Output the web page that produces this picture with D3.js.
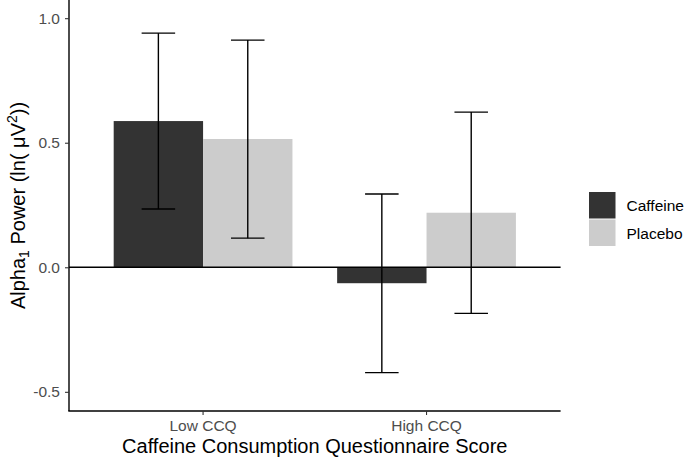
<!DOCTYPE html>
<html><head><meta charset="utf-8">
<script src="https://cdn.jsdelivr.net/npm/d3@7"></script>
<style>body{margin:0;background:#fff}svg{display:block;font-family:"Liberation Sans",Arial,sans-serif}</style>
</head><body><svg id="c" width="685" height="457"></svg>
<script>
const categories = ["Low CCQ", "High CCQ"];
const groups = ["Caffeine", "Placebo"];
const caffeineMean = [0.587, -0.064];
const caffeineLow = [0.234, -0.423];
const caffeineHigh = [0.940, 0.294];
const placeboMean = [0.515, 0.219];
const placeboLow = [0.117, -0.185];
const placeboHigh = [0.912, 0.623];
const yTicks = [-0.5, 0.0, 0.5, 1.0];
const colors = ["#333333", "#cccccc"];

const svg = d3.select("#c");
const pL = 69, pR = 560.6, pT = 0, pB = 411;
const y = d3.scaleLinear().domain([-0.577, 1.073]).range([pB, pT]);
const x = d3.scaleLinear().domain([0.4, 2.6]).range([pL, pR]);
const series = [
  {name: groups[0], mean: caffeineMean, lo: caffeineLow, hi: caffeineHigh, color: colors[0], off: -0.2},
  {name: groups[1], mean: placeboMean, lo: placeboLow, hi: placeboHigh, color: colors[1], off: 0.2}
];

// bars
series.forEach(s => {
  categories.forEach((c, i) => {
    const v = s.mean[i];
    svg.append("rect")
      .attr("x", x(i + 1 + s.off - 0.2)).attr("width", x(0.4) - x(0))
      .attr("y", y(Math.max(0, v))).attr("height", Math.abs(y(v) - y(0)))
      .attr("fill", s.color);
  });
});
// zero line
svg.append("line").attr("x1", pL).attr("x2", pR).attr("y1", y(0)).attr("y2", y(0))
  .attr("stroke", "#000").attr("stroke-width", 1.3);
// error bars
series.forEach(s => {
  categories.forEach((c, i) => {
    const cx = x(i + 1 + s.off);
    const hw = (x(0.15) - x(0)) / 2;
    const g = svg.append("g").attr("stroke", "#000").attr("stroke-width", 1.4).attr("fill", "none");
    g.append("line").attr("x1", cx).attr("x2", cx).attr("y1", y(s.lo[i])).attr("y2", y(s.hi[i]));
    g.append("line").attr("x1", cx - hw).attr("x2", cx + hw).attr("y1", y(s.lo[i])).attr("y2", y(s.lo[i]));
    g.append("line").attr("x1", cx - hw).attr("x2", cx + hw).attr("y1", y(s.hi[i])).attr("y2", y(s.hi[i]));
  });
});

// y axis
const yAxis = d3.axisLeft(y).tickValues(yTicks).tickFormat(d3.format(".1f")).tickSize(4).tickPadding(5);
const ya = svg.append("g").attr("transform", `translate(${pL},0)`).call(yAxis);
ya.select(".domain").attr("d", `M0,${pT}V${pB}`).attr("stroke", "#000").attr("stroke-width", 1.4);
ya.selectAll(".tick line").attr("stroke", "#333").attr("stroke-width", 1.1);
ya.selectAll(".tick text").attr("fill", "#4d4d4d").style("font-size", "15.5px").style("font-family", "Liberation Sans, Arial, sans-serif")
  .text(d => d < 0 ? "-" + d3.format(".1f")(-d) : d3.format(".1f")(d));

// x axis
const xb = d3.scaleOrdinal().domain(categories).range([x(1), x(2)]);
const xa = svg.append("g").attr("transform", `translate(0,${pB})`);
xa.append("line").attr("x1", pL - 0.7).attr("x2", pR).attr("stroke", "#000").attr("stroke-width", 1.4);
categories.forEach((c, i) => {
  xa.append("line").attr("x1", xb(c)).attr("x2", xb(c)).attr("y1", 0).attr("y2", 4).attr("stroke", "#333").attr("stroke-width", 1.1);
  xa.append("text").attr("x", xb(c)).attr("y", 20).attr("text-anchor", "middle").attr("fill", "#4d4d4d")
    .style("font-size", "15.5px").text(c);
});

// axis titles
svg.append("text").attr("x", (pL + pR) / 2).attr("y", 452.5).attr("text-anchor", "middle")
  .style("font-size", "20px").attr("fill", "#000").text("Caffeine Consumption Questionnaire Score");
const yt = svg.append("text").attr("transform", `translate(24.5,${(pT + pB) / 2}) rotate(-90)`)
  .attr("text-anchor", "middle").style("font-size", "20px").attr("fill", "#000");
yt.append("tspan").text("Alpha");
yt.append("tspan").attr("dy", 4).style("font-size", "14px").text("1");
yt.append("tspan").attr("dy", -4).text(" Power (ln( \u03BCV");
yt.append("tspan").attr("dy", -8).style("font-size", "14px").text("2");
yt.append("tspan").attr("dy", 8).text("))");

// legend
const lg = svg.append("g");
groups.forEach((gname, i) => {
  lg.append("rect").attr("x", 589).attr("y", 192 + i * 27.5).attr("width", 26.5).attr("height", 26.5).attr("fill", colors[i]);
  lg.append("text").attr("x", 626.5).attr("y", 211 + i * 27.5).style("font-size", "15.5px").attr("fill", "#000").text(gname);
});
</script></body></html>
